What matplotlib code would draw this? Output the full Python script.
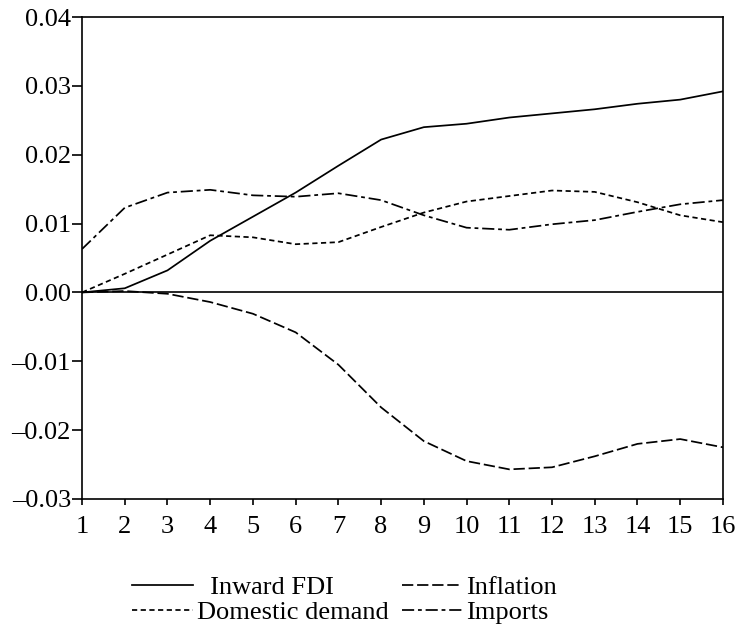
import matplotlib
matplotlib.use("Agg")
from matplotlib import pyplot as plt

# impulse response horizons and series
periods = list(range(1, 17))
inward_fdi = [0.0, 0.0006, 0.0032, 0.0075, 0.0110, 0.0145, 0.0184, 0.0222,
              0.0240, 0.0245, 0.0254, 0.0260, 0.0266, 0.0274, 0.0280, 0.0292]
inflation = [0.0, 0.0002, -0.0002, -0.0014, -0.0031, -0.0058, -0.0105, -0.0167,
             -0.0216, -0.0245, -0.0257, -0.0254, -0.0238, -0.0220, -0.0213, -0.0225]
domestic_demand = [0.0, 0.0027, 0.0055, 0.0083, 0.0080, 0.0070, 0.0073, 0.0095,
                   0.0116, 0.0132, 0.0140, 0.0148, 0.0146, 0.0131, 0.0112, 0.0102]
imports = [0.0063, 0.0123, 0.0145, 0.0149, 0.0141, 0.0139, 0.0144, 0.0134,
           0.0112, 0.0094, 0.0091, 0.0099, 0.0105, 0.0117, 0.0128, 0.0134]
y_ticks = [-0.03, -0.02, -0.01, 0.00, 0.01, 0.02, 0.03, 0.04]

plt.rcParams['font.family'] = ['Liberation Serif', 'DejaVu Serif']
fs = 19

fig = plt.figure(figsize=(7.35, 6.37), dpi=100)
ax = fig.add_axes([0.1116, 0.2167, 0.872, 0.7566])

lw = 1.25
ax.axhline(0, color='black', lw=1.2, zorder=1)
l1, = ax.plot(periods, inward_fdi, color='black', lw=lw, label='  Inward FDI')
l2, = ax.plot(periods, inflation, color='black', lw=lw, dashes=(6.5, 2.2),
              label='Inflation')
l3, = ax.plot(periods, domestic_demand, color='black', lw=lw, dashes=(3.0, 2.0),
              label='Domestic demand')
l4, = ax.plot(periods, imports, color='black', lw=lw,
              dashes=(7, 2.2, 2.2, 2.2), label='Imports')

ax.set_xlim(1, 16)
ax.set_ylim(-0.03, 0.04)
ax.set_xticks(periods)
ax.set_yticks(y_ticks)
ax.set_yticklabels([('%.2f' % v).replace('-', '\u2013') for v in y_ticks])
for s in ax.spines.values():
    s.set_linewidth(1.2)
ax.tick_params(axis='both', labelsize=fs, direction='out', width=1.2, colors='black')
ax.tick_params(axis='y', length=7, pad=1)
ax.tick_params(axis='x', length=4.5, pad=8)

# rows: Inward FDI | Inflation ; Domestic demand | Imports
fig.legend(handles=[l1, l3, l2, l4], ncol=2, loc='upper left',
           bbox_to_anchor=(132 / 735, 1 - 576 / 637), frameon=False, fontsize=fs,
           handlelength=2.3, handletextpad=0.15, columnspacing=0.5,
           labelspacing=0.05, borderpad=0, borderaxespad=0)

fig.savefig('out.png', dpi=100)
